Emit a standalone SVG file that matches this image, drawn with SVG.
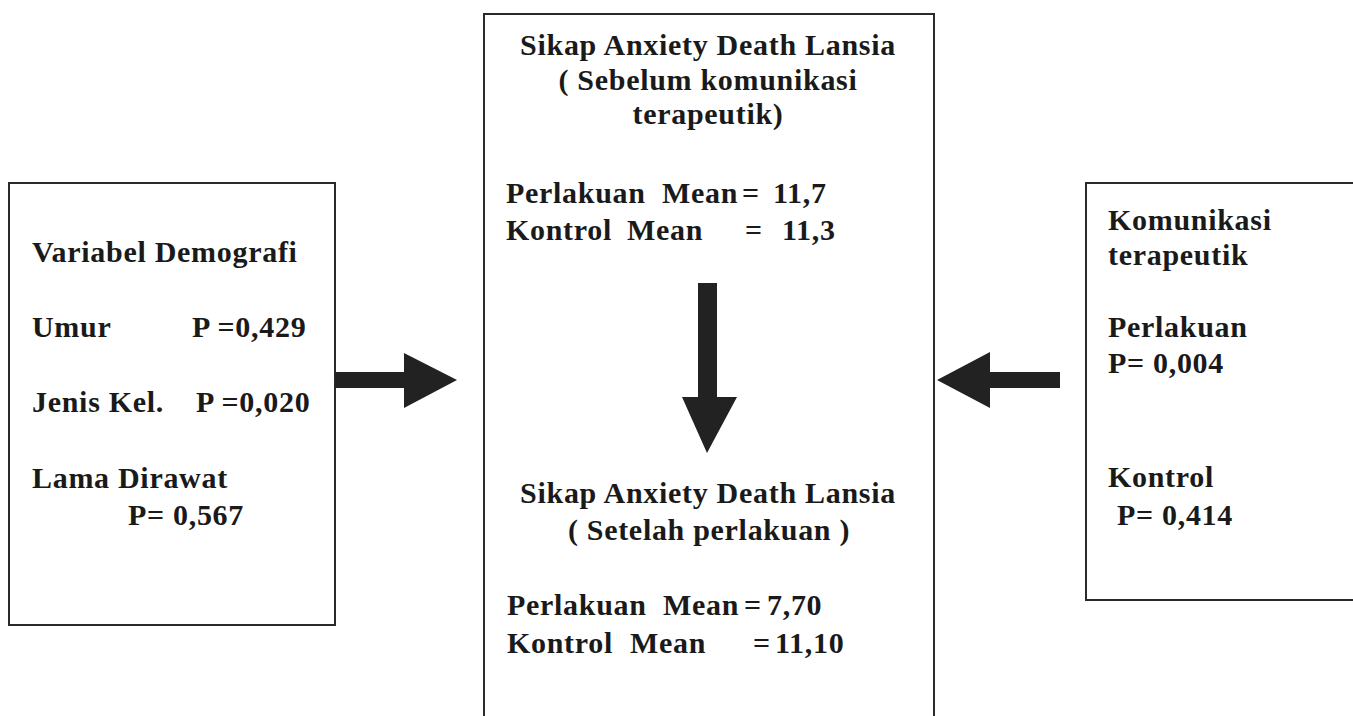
<svg xmlns="http://www.w3.org/2000/svg" width="1353" height="716" viewBox="0 0 1353 716">
  <style>
    .box { fill: #ffffff; stroke: #2a2a2a; stroke-width: 2; }
    .t { font-family: "Liberation Serif", "Times New Roman", serif; font-weight: bold; font-size: 30px; fill: #1a1a1a; letter-spacing: 0.7px; }
    .c { text-anchor: middle; }
    .arrow { fill: #222222; }
  </style>
  <rect width="1353" height="716" fill="#ffffff"/>

  <!-- Demographic variables -->
  <g id="demografi">
    <rect class="box" x="9" y="183" width="326" height="442"/>
    <text class="t" x="32" y="262">Variabel Demografi</text>
    <text class="t" y="337"><tspan x="32">Umur</tspan><tspan x="192">P =0,429</tspan></text>
    <text class="t" y="412"><tspan x="32">Jenis Kel.</tspan><tspan x="196">P =0,020</tspan></text>
    <text class="t" x="32" y="488">Lama Dirawat</text>
    <text class="t" x="128" y="525">P= 0,567</text>
  </g>

  <!-- Central outcome box -->
  <g id="sikap">
    <rect class="box" x="484" y="14" width="450" height="720"/>
    <text class="t c" x="708" y="55">Sikap Anxiety Death Lansia</text>
    <text class="t c" x="708" y="90">( Sebelum komunikasi</text>
    <text class="t c" x="708" y="124">terapeutik)</text>
    <text class="t" y="203"><tspan x="506">Perlakuan</tspan><tspan x="662">Mean</tspan><tspan x="742">=</tspan><tspan x="773">11,7</tspan></text>
    <text class="t" y="240"><tspan x="506">Kontrol</tspan><tspan x="627">Mean</tspan><tspan x="745">=</tspan><tspan x="782">11,3</tspan></text>
    <text class="t c" x="708" y="503">Sikap Anxiety Death Lansia</text>
    <text class="t c" x="709" y="540">( Setelah perlakuan )</text>
    <text class="t" y="615"><tspan x="507">Perlakuan</tspan><tspan x="663">Mean</tspan><tspan x="744">=</tspan><tspan x="767">7,70</tspan></text>
    <text class="t" y="653"><tspan x="507">Kontrol</tspan><tspan x="630">Mean</tspan><tspan x="753">=</tspan><tspan x="775">11,10</tspan></text>
  </g>

  <!-- Therapeutic communication -->
  <g id="komunikasi">
    <rect class="box" x="1086" y="183" width="280" height="417"/>
    <text class="t" x="1108" y="230">Komunikasi</text>
    <text class="t" x="1108" y="265">terapeutik</text>
    <text class="t" x="1108" y="337">Perlakuan</text>
    <text class="t" x="1108" y="373">P= 0,004</text>
    <text class="t" x="1108" y="487">Kontrol</text>
    <text class="t" x="1117" y="525">P= 0,414</text>
  </g>

  <!-- Block arrows -->
  <g id="connectors">
    <polygon class="arrow" points="335,372 404,372 404,353 457,380 404,408 404,388 335,388"/>
    <polygon class="arrow" points="698,283 717,283 717,397 737,397 707,453 682,397 698,397"/>
    <polygon class="arrow" points="1060,372 990,372 990,352 937,380 990,408 990,388 1060,388"/>
  </g>
</svg>
